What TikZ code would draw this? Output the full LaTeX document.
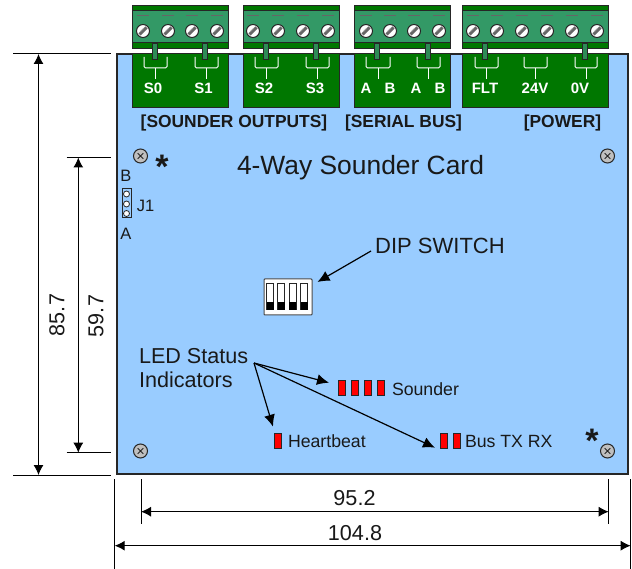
\documentclass[tikz,border=0pt]{standalone}
\usepackage{fontspec}
\setmainfont{Liberation Sans}
\usetikzlibrary{arrows.meta}
\definecolor{board}{HTML}{99CCFF}
\definecolor{pcbgreen}{HTML}{007700}
\definecolor{bodygreen}{HTML}{339966}
\definecolor{pingreen}{HTML}{2E8B57}
\tikzset{
 x=1pt,y=-1pt,
 every node/.style={inner sep=0pt,outer sep=0pt,text=black!90},
 dimline/.style={line width=1pt,black},
 dimarrow/.style={line width=1pt,black,{Latex[length=10pt,width=10pt]}-{Latex[length=10pt,width=10pt]}},
 pointer/.style={line width=1.2pt,black,-{Latex[length=12pt,width=11pt]}},
 blk/.style={fill=pcbgreen,draw=black!85,line width=1pt},
 termbody/.style={fill=bodygreen,draw=black!85,line width=1pt},
 termband/.style={fill=pcbgreen,draw=black!85,line width=1pt},
 pinbar/.style={fill=pingreen,draw=black!85,line width=1pt},
 brace/.style={draw=white,line width=1pt,rounded corners=1.5pt},
 termlabel/.style={text=white,font=\bfseries\fontsize{15}{15}\selectfont},
 grouplabel/.style={font=\bfseries\fontsize{17.4}{18}\selectfont},
 txt/.style={font=\fontsize{17.7}{18}\selectfont},
 jtxt/.style={font=\fontsize{16.5}{17}\selectfont},
 bigtxt/.style={font=\fontsize{22}{22}\selectfont},
 huge/.style={font=\fontsize{26.4}{27}\selectfont},
 ledtxt/.style={font=\fontsize{21.6}{22}\selectfont},
 dimtxt/.style={font=\fontsize{21.6}{22}\selectfont},
 starmark/.style={font=\bfseries\fontsize{34}{34}\selectfont},
 led/.style={fill=red,draw=black!85,line width=0.9pt},
}
\newcommand{\myscrew}[2]{%
  \fill[white,draw=black!85,line width=1pt] (#1,#2) circle (6.5);
  \fill[black!60] (#1-4.6,#2+2.4) -- (#1+2.4,#2-4.6) -- (#1+4.6,#2-2.4) -- (#1-2.4,#2+4.6) -- cycle;
  \draw[black!40,line width=0.8pt] (#1-2.8,#2+0.8)--(#1+0.8,#2-2.8);
  \draw[black!60,line width=1pt] (#1-6,#2-15)--(#1+6,#2-15);
}
\newcommand{\mybrace}[2]{%
  \draw[brace] (#1,57) -- (#1,68) -- (#2,68) -- (#2,57);
  \draw[brace] ({(#1+#2)/2},68) -- ({(#1+#2)/2},79);
}
\newcommand{\mymount}[2]{%
  \fill[black!25,draw=black!85,line width=1pt] (#1,#2) circle (7);
  \draw[black!85,line width=1pt] (#1-2.8,#2-2.8)--(#1+2.8,#2+2.8) (#1-2.8,#2+2.8)--(#1+2.8,#2-2.8);
}
\newcommand{\myterm}[2]{%
  \fill[white] (#1,5) rectangle (#2,53);
  \draw[termband] (#1,6) rectangle (#2,11);
  \draw[termband] (#1,43) rectangle (#2,49);
  \draw[termbody] (#1,11) rectangle (#2,43);
}
\begin{document}
\begin{tikzpicture}
\useasboundingbox (0,0) rectangle (632,569);
\fill[white] (0,0) rectangle (632,569);
% board
\draw[fill=board,draw=black!85,line width=1.1pt] (117,54) rectangle (628,474);
% green pads
\foreach \a/\b in {132/228,243/339,354/450,462/608}{
  \draw[blk] (\a,54) rectangle (\b,108);
}
% terminals
\myterm{132}{228}\myterm{243}{339}\myterm{354}{450}\myterm{462}{608}
\foreach \x in {143,168,192,217,253,278,303,328,366,390,414,439,473,497,522,547,572,597}{\myscrew{\x}{31}}
\foreach \x in {155,205,266,316,377,428,485,585}{
  \draw[pinbar] (\x-2.5,44) rectangle (\x+2.5,60);
}
\foreach \a/\b in {144/167,195/218,255/278,306/329,366/390,417/440,475/498,524/547,575/597}{\mybrace{\a}{\b}}
% terminal labels
\node[termlabel] (s0) at (153,88.5) {S0};
\node[termlabel] (s1) at (203.5,88.5) {S1};
\node[termlabel] (s2) at (264,88.5) {S2};
\node[termlabel] (s3) at (315,88.5) {S3};
\node[termlabel] (a1) at (366,88.5) {A};
\node[termlabel] (b1) at (390,88.5) {B};
\node[termlabel] (a2) at (416,88.5) {A};
\node[termlabel] (b2) at (440,88.5) {B};
\node[termlabel] (flt) at (485,88.5) {FLT};
\node[termlabel] (v24) at (535,88.5) {24V};
\node[termlabel] (v0) at (580,88.5) {0V};
% group labels
\node[grouplabel] (gs) at (234,123.5) {[SOUNDER OUTPUTS]};
\node[grouplabel] (gb) at (403.5,123.5) {[SERIAL BUS]};
\node[grouplabel] (gp) at (562.5,123.5) {[POWER]};
\node[huge] (title) at (360.5,168) {4-Way Sounder Card};
% mounts
\mymount{140.5}{156}\mymount{607.5}{156}\mymount{140.5}{451}\mymount{607.5}{451}
\node[starmark] (st1) at (162,167) {*};
\node[starmark] (st2) at (592,441) {*};
% J1
\node[jtxt] (bl) at (126,175.5) {B};
\node[jtxt] (al) at (126,233.5) {A};
\node[jtxt] (j1) at (145.5,205.5) {J1};
\draw[fill=board,draw=black!85,line width=1pt] (122,189) rectangle (131,218);
\foreach \y in {194,204,213.5}{\draw[fill=white,draw=black!85,line width=0.8pt] (126.5,\y) circle (3);}
% DIP
\node[bigtxt] (dip) at (440,246) {DIP SWITCH};
\draw[fill=white,draw=black!70,line width=1pt,rounded corners=0.8pt] (264,279) rectangle (312,315);
\foreach \x in {266.5,277.5,289,300.5}{
  \draw[fill=white,draw=black!85,line width=1pt] (\x,284) rectangle (\x+7,310);
  \fill[black] (\x,302) rectangle (\x+7,310);
}
\coordinate (diptip) at (317.5,282);
\coordinate (dipfrom) at (371,251);
\draw[pointer] (dipfrom) -- (diptip);
% LEDs
\foreach \x in {338,351,364,377}{\draw[led] (\x,380.5) rectangle (\x+7,395.5);}
\draw[led] (274,433.5) rectangle (281,448.5);
\draw[led] (440,433.5) rectangle (447,448.5);
\draw[led] (453,433.5) rectangle (460,448.5);
\node[ledtxt,anchor=west] (ledl1) at (139,356) {LED Status};
\node[ledtxt,anchor=west] (ledl2) at (139,380) {Indicators};
\node[txt,anchor=west] (snd) at (392,389) {Sounder};
\node[txt,anchor=west] (hb) at (288,441.5) {Heartbeat};
\node[txt,anchor=west] (bus) at (465,441) {Bus TX RX};
\coordinate (ledfrom) at (254,363);
\coordinate (t1) at (329,382.7);
\coordinate (t2) at (273,426.7);
\coordinate (t3) at (435,447.7);
\draw[pointer] (ledfrom) -- (t1);
\draw[pointer] (ledfrom) -- (t2);
\draw[pointer] (ledfrom) -- (t3);
% dimensions
\draw[dimline] (13,54)--(110.5,54) (13,475)--(110.5,475) (66.5,157.5)--(111,157.5) (66.5,452.7)--(111,452.7);
\draw[dimline] (114.7,479)--(114.7,569) (141,479)--(141,524) (608.7,479)--(608.7,524) (630.7,479)--(630.7,569);
\draw[dimarrow] (38.5,54)--(38.5,475);
\draw[dimarrow] (78.3,157.5)--(78.3,452.7);
\draw[dimarrow] (141,511.7)--(608.7,511.7);
\draw[dimarrow] (114.7,545.7)--(630.7,545.7);
\node[dimtxt,rotate=90] (d1) at (57,315) {85.7};
\node[dimtxt,rotate=90] (d2) at (96,316) {59.7};
\node[dimtxt] (d3) at (354.5,498) {95.2};
\node[dimtxt] (d4) at (355,533) {104.8};
\end{tikzpicture}
\end{document}
